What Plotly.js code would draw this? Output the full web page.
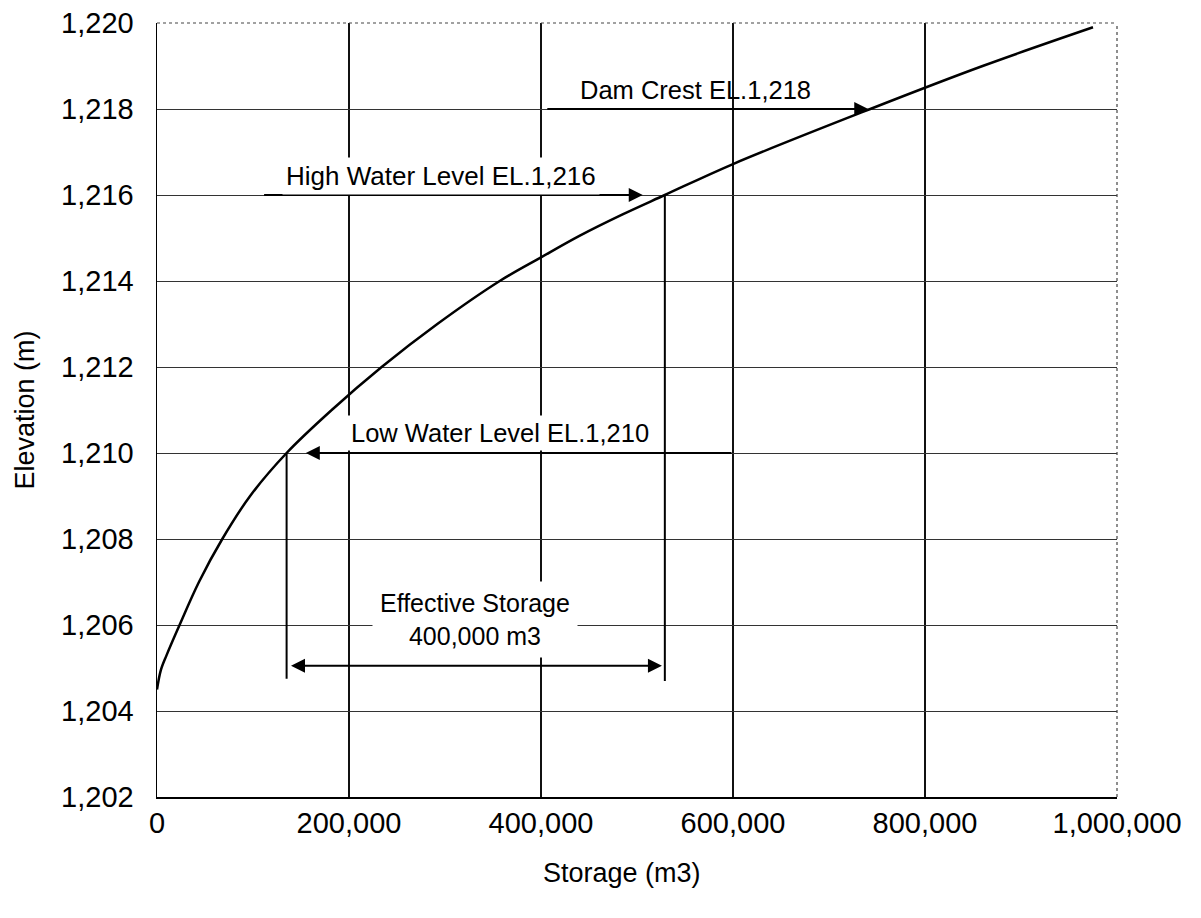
<!DOCTYPE html>
<html>
<head>
<meta charset="utf-8">
<script src="https://cdn.plot.ly/plotly-3.0.1.min.js"></script>
<style>
html,body{margin:0;padding:0;background:#fff;}
#chart{width:1201px;height:918px;}
</style>
</head>
<body>
<div id="chart"></div>
<script>
// Storage-elevation curve
const storage   = [0, 4000, 10000, 23500, 43700, 68000, 97000, 135000, 182000, 234000, 292000, 357000, 400000, 440000, 485000, 529000, 600000, 743000, 860000, 975000];
const elevation = [1204.5, 1204.95, 1205.3, 1206, 1207, 1208, 1209, 1210, 1211, 1212, 1213, 1214, 1214.55, 1215.05, 1215.55, 1216, 1216.72, 1218, 1219, 1219.9];

// Reference levels
const levelNames   = ["Dam Crest EL.1,218", "High Water Level EL.1,216", "Low Water Level EL.1,210"];
const levelElev    = [1218, 1216, 1210];
const levelStorage = [743000, 529000, 135000];
const effectiveLabel = "Effective Storage<br>400,000 m3";

const xTicks = [0, 200000, 400000, 600000, 800000, 1000000];
const yTicks = [1202, 1204, 1206, 1208, 1210, 1212, 1214, 1216, 1218, 1220];

const FONT = '"Liberation Sans", Arial, Helvetica, sans-serif';

const trace = {
  x: storage, y: elevation, type: 'scatter', mode: 'lines',
  line: {color: '#000', width: 2.5, shape: 'spline', smoothing: 1},
  hoverinfo: 'skip', showlegend: false
};

const lowS = levelStorage[2], highS = levelStorage[1];
const dimY = 1205.05;

const annotations = [
  // Dam crest arrow
  {x: levelStorage[0], y: levelElev[0], ax: 405000, ay: levelElev[0], xref:'x', yref:'y', axref:'x', ayref:'y',
   text:'', showarrow:true, arrowhead:2, arrowsize:1.4, arrowwidth:2, arrowcolor:'#000', standoff:2},
  {x: 561000, y: levelElev[0] + 0.44, xref:'x', yref:'y', text: levelNames[0], showarrow:false,
   font:{family:FONT, size:25.5, color:'#000'}},
  // High water arrow
  {x: 506000, y: levelElev[1], ax: 110000, ay: levelElev[1], xref:'x', yref:'y', axref:'x', ayref:'y',
   text:'', showarrow:true, arrowhead:2, arrowsize:1.4, arrowwidth:2, arrowcolor:'#000'},
  {x: 296000, y: levelElev[1] + 0.44, xref:'x', yref:'y', text: levelNames[1], showarrow:false,
   font:{family:FONT, size:26, color:'#000'}, bgcolor:'#fff', borderpad:3},
  // Low water arrow
  {x: 155000, y: levelElev[2], ax: 600000, ay: levelElev[2], xref:'x', yref:'y', axref:'x', ayref:'y',
   text:'', showarrow:true, arrowhead:2, arrowsize:1.4, arrowwidth:2, arrowcolor:'#000'},
  {x: 357000, y: levelElev[2] + 0.47, xref:'x', yref:'y', text: levelNames[2], showarrow:false,
   font:{family:FONT, size:25.5, color:'#000'}, bgcolor:'#fff', borderpad:3},
  // Effective storage dimension arrow
  {x: highS - 3000, y: dimY, ax: lowS + 3000, ay: dimY, xref:'x', yref:'y', axref:'x', ayref:'y',
   text:'', showarrow:true, arrowhead:2, startarrowhead:2, arrowside:'end+start', arrowsize:1.4, startarrowsize:1.4,
   arrowwidth:2, arrowcolor:'#000'},
  {x: 331000, y: 1206.12, xref:'x', yref:'y', text: effectiveLabel, showarrow:false,
   font:{family:FONT, size:25, color:'#000'}, bgcolor:'#fff', borderpad:7},
  // x-axis title (slightly left of centre as in the reference)
  {x: 0.484, y: -0.098, xref:'paper', yref:'paper', xanchor:'center', yanchor:'middle',
   text: 'Storage (m3)', showarrow:false, font:{family:FONT, size:27, color:'#000'}}
];

const shapes = [
  // vertical dimension lines
  {type:'line', xref:'x', yref:'y', x0: lowS, x1: lowS, y0: levelElev[2], y1: 1204.75, line:{color:'#000', width:2}},
  {type:'line', xref:'x', yref:'y', x0: highS, x1: highS, y0: levelElev[1], y1: 1204.7, line:{color:'#000', width:2}},
  // dotted top and right frame
  {type:'line', xref:'paper', yref:'paper', x0:0, x1:1, y0:1, y1:1, line:{color:'#444', width:1.2, dash:'dot'}},
  {type:'line', xref:'paper', yref:'paper', x0:1, x1:1, y0:0, y1:1, line:{color:'#444', width:1.2, dash:'dot'}}
];

const layout = {
  width: 1201, height: 918,
  margin: {l:157, r:84, t:23, b:121},
  paper_bgcolor:'#fff', plot_bgcolor:'#fff',
  font: {family: FONT, color:'#000', size: 29},
  showlegend: false,
  xaxis: {
    range: [0, 1000000], tickvals: xTicks, tickformat: ',d',
    showgrid: true, gridcolor:'#111', gridwidth: 1.5,
    showline: true, linecolor:'#000', linewidth: 1.5,
    zeroline: false, ticks: '', ticklabelstandoff: 0,
    tickfont: {family: FONT, size: 29, color:'#000'}
  },
  yaxis: {
    range: [1202, 1220], tickvals: yTicks, tickformat: ',d',
    showgrid: true, gridcolor:'#333', gridwidth: 1,
    showline: true, linecolor:'#000', linewidth: 1.5,
    zeroline: false, ticks: '', ticklabelstandoff: 16,
    tickfont: {family: FONT, size: 29, color:'#000'},
    title: {text: 'Elevation (m)', font: {family: FONT, size: 27, color:'#000'}, standoff: 18}
  },
  annotations: annotations,
  shapes: shapes
};

Plotly.newPlot('chart', [trace], layout, {displayModeBar:false, staticPlot:true});
</script>
</body>
</html>
